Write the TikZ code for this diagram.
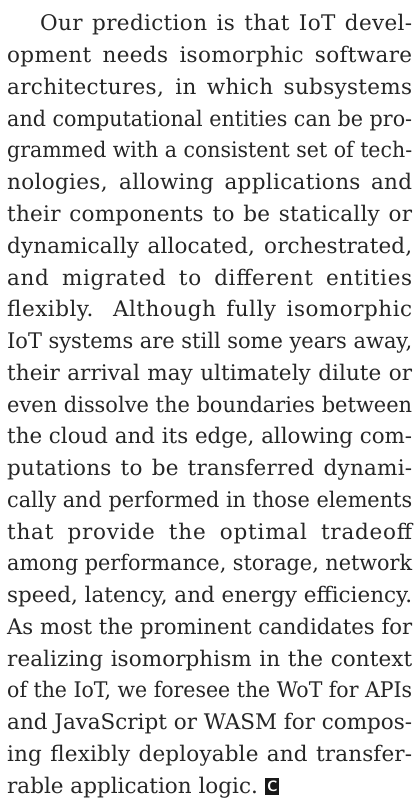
\documentclass[tikz,border=0pt]{standalone}
\usepackage{fontspec}
\setmainfont{DejaVu Serif}
\usetikzlibrary{positioning}

\definecolor{ink}{HTML}{262626}

% one justified line: share the slack between letters and spaces,
% or squeeze the line a little if it is too long
\newsavebox\linebox
\newcommand\jline[2]{%
  \sbox\linebox{#2}%
  \ifdim\wd\linebox>#1\relax
    \scalebox{\fpeval{#1/\the\wd\linebox}}[1]{\usebox\linebox}%
  \else
    \edef\lspace{\fpeval{round(min(6,50*(#1-\the\wd\linebox)*0.55/\the\wd\linebox),2)}}%
    \makebox[#1][s]{\addfontfeature{LetterSpace=\lspace}#2}%
  \fi}

\begin{document}
\begin{tikzpicture}[x=1pt,y=-1pt,
    txt/.style={anchor=base west,inner sep=0pt,text=ink,
      font=\fontsize{21.5}{22}\selectfont},
    endmark/.style={anchor=south west,inner sep=0pt,fill=black!90,text=white,
      minimum width=14pt,minimum height=17pt,
      font=\sffamily\bfseries\fontsize{15}{15}\selectfont}]
  \fill[white] (0,0) rectangle (419,802);
  \useasboundingbox (0,0) rectangle (419,802);

  % first line, indented
  \node[txt] (l1) at (40,31) {\jline{372pt}{Our prediction is that IoT devel-}};

  % the justified lines of the column
  \foreach \t [count=\i from 2] in {
      {opment needs isomorphic software},
      {architectures, in which subsystems},
      {and computational entities can be pro-},
      {grammed with a consistent set of tech-},
      {nologies, allowing applications and},
      {their components to be statically or},
      {dynamically allocated, orchestrated,},
      {and migrated to different entities},
      {flexibly. Although fully isomorphic},
      {IoT systems are still some years away,},
      {their arrival may ultimately dilute or},
      {even dissolve the boundaries between},
      {the cloud and its edge, allowing com-},
      {putations to be transferred dynami-},
      {cally and performed in those elements},
      {that provide the optimal tradeoff},
      {among performance, storage, network},
      {speed, latency, and energy efficiency.},
      {As most the prominent candidates for},
      {realizing isomorphism in the context},
      {of the IoT, we foresee the WoT for APIs},
      {and JavaScript or WASM for compos-},
      {ing flexibly deployable and transfer-}}
    \node[txt] (l\i) at (7,{31+31.75*(\i-1)}) {\jline{405pt}{\t}};

  % last line and the end mark
  \node[txt] (l25) at (7,793) {rable application logic.};
  \node[endmark] (mark) at ([xshift=7pt,yshift=-2pt]l25.base east) {C};
\end{tikzpicture}
\end{document}
